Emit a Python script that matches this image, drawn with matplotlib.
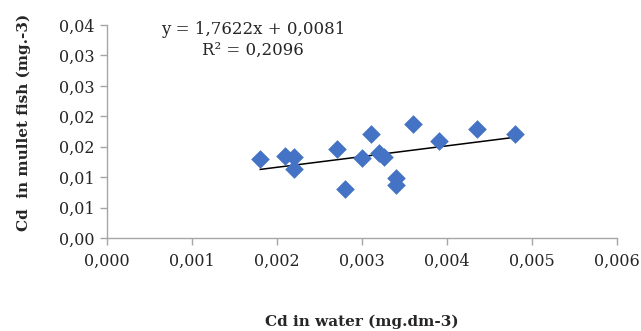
import matplotlib.pyplot as plt
import numpy as np

# Cd in water (mg.dm-3) vs Cd in mullet fish
cd_water = [0.0018, 0.00209, 0.0022, 0.0022, 0.0027, 0.0028, 0.0031, 0.0030,
            0.0032, 0.00325, 0.0036, 0.0039, 0.0034, 0.0034, 0.00435, 0.0048]
cd_fish = [0.0130, 0.01347, 0.01336, 0.01129, 0.01457, 0.0080, 0.01709, 0.0131,
           0.01391, 0.01336, 0.01873, 0.01594, 0.00981, 0.00871, 0.01786, 0.01709]

slope = 1.7622
intercept = 0.0081
r2 = 0.2096

x_ticks = [0.000, 0.001, 0.002, 0.003, 0.004, 0.005, 0.006]
x_labels = ["0,000", "0,001", "0,002", "0,003", "0,004", "0,005", "0,006"]
y_ticks = [0.0, 0.005, 0.01, 0.015, 0.02, 0.025, 0.03, 0.035]
y_labels = ["0,00", "0,01", "0,01", "0,02", "0,02", "0,03", "0,03", "0,04"]

plt.rcParams['font.family'] = ['DejaVu Serif']

fig = plt.figure(figsize=(6.41, 3.31), dpi=100)
ax = fig.add_axes([107.3 / 641, 93 / 331, 510 / 641, 213 / 331])

ax.scatter(cd_water, cd_fish, marker='D', s=9.5 ** 2, color='#4472C4',
           linewidths=0, zorder=3)

xs = np.array([min(cd_water), max(cd_water)])
ax.plot(xs, slope * xs + intercept, color='black', linewidth=1.1, zorder=2)

ax.set_xlim(0, 0.006)
ax.set_ylim(0, 0.035)
ax.set_xticks(x_ticks)
ax.set_xticklabels(x_labels)
ax.set_yticks(y_ticks)
ax.set_yticklabels(y_labels)

for s in ['top', 'right']:
    ax.spines[s].set_visible(False)
for s in ['left', 'bottom']:
    ax.spines[s].set_color('#A6A6A6')
    ax.spines[s].set_linewidth(1)
ax.tick_params(axis='both', colors='#A6A6A6', labelcolor='#262626',
               labelsize=11.5, length=5, width=1)
ax.tick_params(axis='x', pad=6)
ax.tick_params(axis='y', pad=4)

# axis titles placed like the original layout
fig.text(362 / 641, 1 - 322 / 331, "Cd in water (mg.dm-3)", ha='center',
         va='center', fontsize=11, fontweight='bold', color='#262626')
fig.text(24 / 641, 1 - 122 / 331, "Cd  in mullet fish (mg.-3)", ha='center',
         va='center', rotation=90, fontsize=11, fontweight='bold',
         color='#262626')

eq = "y = 1,7622x + 0,0081\nR² = {}".format(str(r2).replace('.', ','))
fig.text(253 / 641, 1 - 40 / 331, eq, ha='center', va='center',
         fontsize=12, color='#262626', linespacing=1.25)

fig.savefig("out.png", dpi=100)
